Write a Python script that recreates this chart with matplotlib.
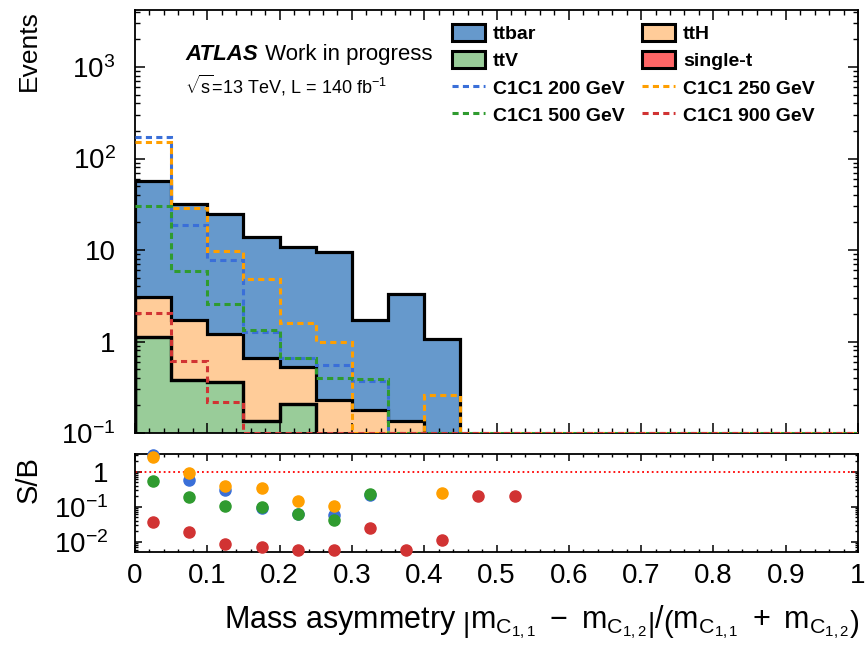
import numpy as np
import matplotlib
matplotlib.use("Agg")
import matplotlib.pyplot as plt
from matplotlib.patches import Patch
from matplotlib.lines import Line2D
from matplotlib.ticker import FixedLocator, FuncFormatter, LogLocator, NullFormatter, MultipleLocator

plt.rcParams['font.family'] = 'Liberation Sans'
plt.rcParams['mathtext.fontset'] = 'custom'
plt.rcParams['mathtext.rm'] = 'Liberation Sans'
plt.rcParams['mathtext.it'] = 'Liberation Sans:italic'
plt.rcParams['mathtext.bf'] = 'Liberation Sans:bold'

# 20 bins of 0.05 in mass asymmetry
bin_edges = np.linspace(0, 1, 21)

# backgrounds (events per bin)
ttbar = [53.9, 30.3, 23.8, 13.1, 10.2, 9.3, 1.55, 3.2, 1.07, 0, 0, 0, 0, 0, 0, 0, 0, 0, 0, 0]
ttH = [1.99, 1.36, 0.85, 0.525, 0.32, 0.23, 0.18, 0.135, 0, 0, 0, 0, 0, 0, 0, 0, 0, 0, 0, 0]
ttV = [1.11, 0.375, 0.36, 0.135, 0.21, 0, 0, 0, 0, 0, 0, 0, 0, 0, 0, 0, 0, 0, 0, 0]
single_t = [0, 0, 0, 0, 0, 0, 0, 0, 0, 0.005, 0.005, 0, 0, 0, 0, 0, 0, 0, 0, 0]

# signals
sig200 = [171, 19, 7.7, 1.26, 0.66, 0.56, 0.37, 0, 0, 0, 0, 0, 0, 0, 0, 0, 0, 0, 0, 0]
sig250 = [151, 29, 9.7, 4.8, 1.58, 1.0, 0, 0, 0.257, 0, 0, 0, 0, 0, 0, 0, 0, 0, 0, 0]
sig500 = [30.6, 5.9, 2.6, 1.34, 0.66, 0.40, 0.39, 0, 0, 0, 0, 0, 0, 0, 0, 0, 0, 0, 0, 0]
sig900 = [2.04, 0.61, 0.22, 0.1, 0.062, 0.055, 0.042, 0.02, 0.012, 0.001, 0.001, 0, 0, 0, 0, 0, 0, 0, 0, 0]

bkg_names = ['ttbar', 'ttH', 'ttV', 'single-t']
bkg_colors = ['#6699cc', '#ffcc99', '#99cc99', '#ff6666']
sig_names = ['C1C1 200 GeV', 'C1C1 250 GeV', 'C1C1 500 GeV', 'C1C1 900 GeV']
sig_colors = ['#3a6fd8', '#ff9f00', '#2f9b2f', '#d13333']

ymin, ymax = 0.1, 4200
dash = (0, (2.0, 1.4))

fig = plt.figure(figsize=(8.67, 6.53), dpi=100)
W, H = 867, 653
ax = fig.add_axes([135 / W, 1 - 433 / H, 723 / W, 423 / H])
rax = fig.add_axes([135 / W, 1 - 551.7 / H, 723 / W, 97.7 / H], sharex=ax)

# stack: ttV at the bottom, then single-t, ttH, ttbar on top
stack_order = [ttV, single_t, ttH, ttbar]
stack_cols = [bkg_colors[2], bkg_colors[3], bkg_colors[1], bkg_colors[0]]
cum = np.cumsum(np.array(stack_order, dtype=float), axis=0)
for i in range(len(stack_order) - 1, -1, -1):
    top = np.maximum(cum[i], 1e-3)
    ax.stairs(top, bin_edges, baseline=1e-3, fill=True, color=stack_cols[i], zorder=1)
for i in range(len(stack_order) - 1, -1, -1):
    top = np.maximum(cum[i], 1e-3)
    ax.stairs(top, bin_edges, baseline=1e-3, color='black', lw=2.3, zorder=2)

# signals drawn on top, floored at the axis bottom like ROOT does
for vals, col in zip([sig200, sig250, sig500, sig900], sig_colors):
    ax.stairs(np.maximum(vals, ymin), bin_edges, baseline=None, color=col, lw=2.2,
              ls=dash, zorder=3)

ax.set_yscale('log')
ax.set_ylim(ymin, ymax)
ax.set_xlim(0, 1)

main_labels = {1000: '$10^{3}$', 100: '$10^{2}$', 10: '10', 1: '1', 0.1: '$10^{-1}$'}
ax.yaxis.set_major_locator(FixedLocator([0.1, 1, 10, 100, 1000]))
ax.yaxis.set_major_formatter(FuncFormatter(lambda v, p: main_labels.get(round(v, 3), '')))
ax.yaxis.set_minor_locator(LogLocator(base=10, subs=np.arange(2, 10), numticks=20))
ax.yaxis.set_minor_formatter(NullFormatter())
ax.xaxis.set_major_locator(MultipleLocator(0.1))
ax.xaxis.set_minor_locator(MultipleLocator(0.02))
ax.tick_params(axis='both', which='both', direction='in', top=True, right=True, labelbottom=False)
ax.tick_params(which='major', length=7, width=1.1)
ax.tick_params(which='minor', length=3.6, width=1.0)
ax.tick_params(axis='y', labelsize=20, pad=14)
for s in ax.spines.values():
    s.set_linewidth(1.3)

atl = fig.text(185 / W, 1 - 60 / H, 'ATLAS', fontsize=16, fontweight='bold', fontstyle='italic')
ax.annotate(' Work in progress', xy=(1, 0), xycoords=atl, xytext=(1, 0),
            textcoords='offset points', fontsize=16, va='bottom', ha='left')
fig.text(185 / W, 1 - 93 / H, r'$\sqrt{\mathrm{s}}$=13 TeV, L = 140 fb$^{-1}$', fontsize=13)

handles = [Patch(facecolor=bkg_colors[0], edgecolor='black', lw=2.2),
           Patch(facecolor=bkg_colors[2], edgecolor='black', lw=2.2),
           Line2D([], [], color=sig_colors[0], ls=dash, lw=2.2),
           Line2D([], [], color=sig_colors[2], ls=dash, lw=2.2),
           Patch(facecolor=bkg_colors[1], edgecolor='black', lw=2.2),
           Patch(facecolor=bkg_colors[3], edgecolor='black', lw=2.2),
           Line2D([], [], color=sig_colors[1], ls=dash, lw=2.2),
           Line2D([], [], color=sig_colors[3], ls=dash, lw=2.2)]
labels = [bkg_names[0], bkg_names[2], sig_names[0], sig_names[2],
          bkg_names[1], bkg_names[3], sig_names[1], sig_names[3]]
fig.legend(handles, labels, ncol=2, loc='upper left', bbox_to_anchor=(452 / W, 1 - 24 / H),
           frameon=False, borderpad=0, borderaxespad=0, handlelength=1.7, handleheight=0.95,
           handletextpad=0.4, labelspacing=0.42, columnspacing=0.9,
           prop={'family': 'Liberation Sans', 'weight': 'bold', 'size': 14})

fig.text(29 / W, 1 - 10 / H, 'Events', rotation=90, ha='center', va='top', fontsize=19)

# ratio panel
bkg = np.array(ttbar) + np.array(ttH) + np.array(ttV) + np.array(single_t)
centers = 0.5 * (bin_edges[:-1] + bin_edges[1:])
for vals, col in zip([sig200, sig250, sig500, sig900], sig_colors):
    s = np.array(vals, dtype=float)
    ok = (bkg > 0) & (s > 0)
    rax.plot(centers[ok], s[ok] / bkg[ok], 'o', color=col, ms=8, clip_on=False, zorder=3)
rax.axhline(1, color='red', ls=':', lw=1.3, zorder=2)

rax.set_yscale('log')
rax.set_ylim(0.0052, 3.2)
ratio_labels = {1: '1', 0.1: '$10^{-1}$', 0.01: '$10^{-2}$'}
rax.yaxis.set_major_locator(FixedLocator([0.01, 0.1, 1]))
rax.yaxis.set_major_formatter(FuncFormatter(lambda v, p: ratio_labels.get(round(v, 3), '')))
rax.yaxis.set_minor_locator(LogLocator(base=10, subs=np.arange(2, 10), numticks=20))
rax.yaxis.set_minor_formatter(NullFormatter())
rax.xaxis.set_major_locator(MultipleLocator(0.1))
rax.xaxis.set_minor_locator(MultipleLocator(0.02))
rax.xaxis.set_major_formatter(FuncFormatter(lambda v, p: '%g' % round(v, 1)))
rax.tick_params(axis='both', which='both', direction='in', top=True, right=True)
rax.tick_params(which='major', length=5, width=1.1)
rax.tick_params(which='minor', length=2.5, width=1.0)
rax.tick_params(axis='y', labelsize=20, pad=19)
rax.tick_params(axis='x', labelsize=20, pad=8)
for s in rax.spines.values():
    s.set_linewidth(1.3)

fig.text(29 / W, 1 - 480 / H, 'S/B', rotation=90, ha='center', va='center', fontsize=21)

fig.text(860 / W, 1 - 622 / H,
         r'Mass asymmetry $\left|\mathrm{m}_{\mathrm{C}_{1,1}}\ -\ \mathrm{m}_{\mathrm{C}_{1,2}}\right|'
         r'/\left(\mathrm{m}_{\mathrm{C}_{1,1}}\ +\ \mathrm{m}_{\mathrm{C}_{1,2}}\right)$',
         ha='right', va='center', fontsize=22)

fig.savefig('out.png', dpi=100)
